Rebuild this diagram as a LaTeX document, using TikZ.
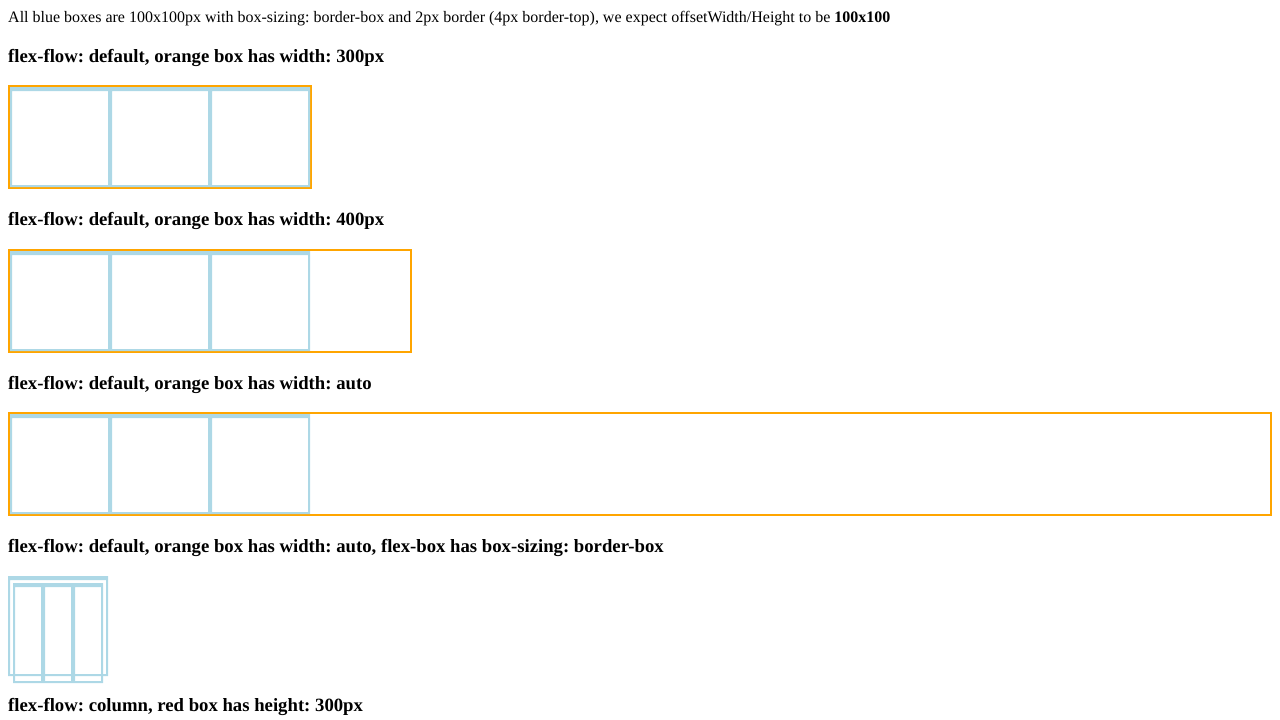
\documentclass[tikz,border=0pt]{standalone}
\usepackage{fontspec}
\setmainfont{Liberation Serif}
\frenchspacing
\definecolor{lb}{HTML}{ADD8E6}
\definecolor{ob}{HTML}{FFA500}
\usetikzlibrary{calc}
% blue box: left x, top y, width, height (px; y grows downward)
\newcommand\bxb[4]{%
  \fill[lb,even odd rule] (#1,#2) rectangle ++(#3,#4)
    ($(#1,#2)+(2,4)$) rectangle ($(#1,#2)+(#3,#4)+(-2,-2)$);}
\tikzset{
  body/.style={anchor=base west, inner sep=0pt, font=\fontsize{16}{19}\selectfont},
  head/.style={anchor=base west, inner sep=0pt, font=\fontsize{18.72}{22}\selectfont\bfseries},
  obox/.style={draw=ob, line width=2pt}
}
\begin{document}
\begin{tikzpicture}[x=1pt,y=-1pt]
\useasboundingbox (0,0) rectangle (1280,720);
\node[body] (intro) at (8,22) {All blue boxes are 100x100px with box-sizing: border-box and 2px border (4px border-top), we expect offsetWidth/Height to be \textbf{100x100}};
\node[head] (h1) at (8,62) {flex-flow: default, orange box has width: 300px};
\node[head] (h2) at (8,225) {flex-flow: default, orange box has width: 400px};
\node[head] (h3) at (8,389) {flex-flow: default, orange box has width: auto};
\node[head] (h4) at (8,552) {flex-flow: default, orange box has width: auto, flex-box has box-sizing: border-box};
\node[head] (h5) at (8,711) {flex-flow: column, red box has height: 300px};
% box 1
\draw[obox] (9,86) rectangle (311,188);
\bxb{10}{87}{100}{100}\bxb{110}{87}{100}{100}\bxb{210}{87}{100}{100}
% box 2
\draw[obox] (9,250) rectangle (411,352);
\bxb{10}{251}{100}{100}\bxb{110}{251}{100}{100}\bxb{210}{251}{100}{100}
% box 3
\draw[obox] (9,413) rectangle (1271,515);
\bxb{10}{414}{100}{100}\bxb{110}{414}{100}{100}\bxb{210}{414}{100}{100}
% box 4
\bxb{8}{576}{100}{100}
\bxb{13}{583}{30}{100}\bxb{43}{583}{30}{100}\bxb{73}{583}{30}{100}
\end{tikzpicture}
\end{document}
